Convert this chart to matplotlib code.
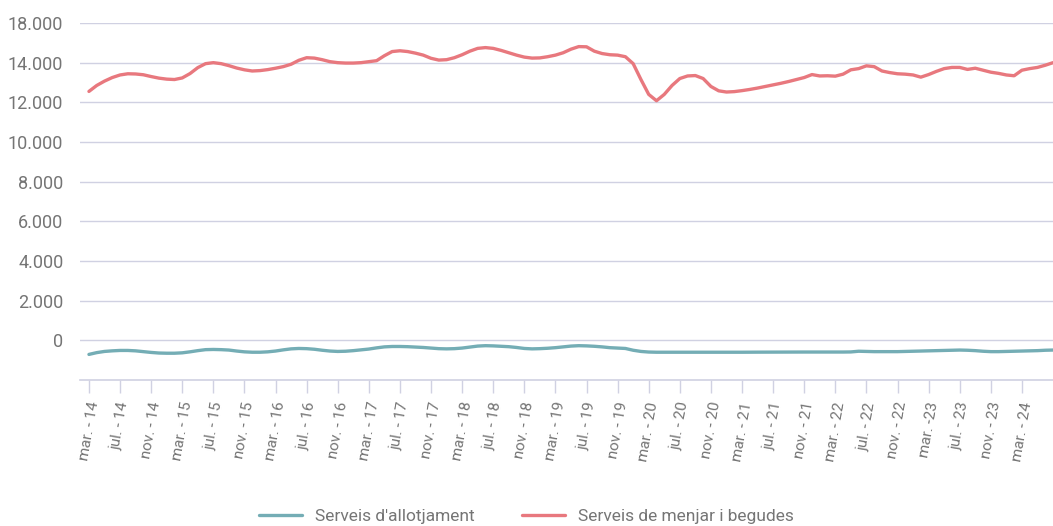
import matplotlib.pyplot as plt

# 数据: mensual, de mar. 2014 a jul. 2024
menjar = [12550, 12850, 13070, 13250, 13380, 13440, 13430, 13390, 13300, 13220,
          13170, 13150, 13230, 13450, 13750, 13950, 14000, 13950, 13850, 13730,
          13640, 13580, 13600, 13650, 13720, 13800, 13920, 14120, 14250, 14230,
          14150, 14050, 14000, 13980, 13980, 14000, 14050, 14100, 14350, 14560,
          14600, 14560, 14480, 14380, 14220, 14130, 14150, 14250, 14400, 14580,
          14720, 14760, 14720, 14620, 14500, 14380, 14280, 14230, 14240, 14300,
          14380, 14500, 14680, 14810, 14800, 14580, 14460, 14400, 14380, 14300,
          13950, 13150, 12400, 12080, 12400, 12850, 13200, 13330, 13350, 13200,
          12800, 12580, 12520, 12540, 12590, 12650, 12720, 12800, 12880, 12960,
          13050, 13150, 13250, 13400, 13330, 13340, 13320, 13420, 13640, 13700,
          13840, 13800, 13580, 13500, 13440, 13420, 13380, 13270, 13400, 13560,
          13700, 13760, 13760, 13660, 13720, 13620, 13520, 13460, 13380, 13340,
          13620, 13700, 13760, 13870, 14000]

allotjament = [-710, -620, -560, -530, -510, -510, -530, -570, -610, -640,
               -650, -650, -630, -580, -520, -470, -460, -470, -490, -540,
               -580, -600, -600, -580, -540, -480, -430, -410, -420, -450,
               -500, -540, -560, -550, -520, -480, -440, -380, -330, -310,
               -310, -320, -340, -360, -390, -420, -430, -420, -390, -340,
               -290, -270, -280, -300, -320, -360, -410, -430, -420, -400,
               -370, -330, -290, -270, -280, -300, -330, -370, -390, -410,
               -500, -560, -590, -600, -600, -600, -600, -600, -600, -600,
               -600, -600, -600, -600, -600, -598, -596, -595, -594, -593,
               -592, -591, -590, -590, -590, -590, -590, -590, -585, -550,
               -560, -570, -570, -570, -570, -560, -550, -540, -530, -520,
               -510, -500, -490, -500, -520, -550, -570, -570, -560, -550,
               -540, -530, -520, -500, -490]

etiquetes_x = ['mar. - 14', 'jul. - 14', 'nov. - 14', 'mar. - 15', 'jul. - 15', 'nov. - 15',
               'mar. - 16', 'jul. - 16', 'nov. - 16', 'mar. - 17', 'jul. - 17', 'nov. - 17',
               'mar. - 18', 'jul. - 18', 'nov. - 18', 'mar. - 19', 'jul. - 19', 'nov. - 19',
               'mar. - 20', 'jul. - 20', 'nov. - 20', 'mar. - 21', 'jul. - 21', 'nov. - 21',
               'mar. - 22', 'jul. - 22', 'nov. - 22', 'mar. -23', 'jul. - 23', 'nov. - 23',
               'mar. - 24']

ticks_y = [0, 2000, 4000, 6000, 8000, 10000, 12000, 14000, 16000]
etiquetes_y = ['0', '2.000', '4.000', '6.000', '8.000', '10.000', '12.000', '14.000', '18.000']

gris = '#757575'
linia = '#d0d1e2'

plt.rcParams['font.family'] = ['Roboto', 'DejaVu Sans']

fig = plt.figure(figsize=(10.53, 5.26), dpi=100)
ax = fig.add_axes([80 / 1053, 1 - 380 / 526, 1 - 80 / 1053, 357 / 526])

mesos = list(range(len(menjar)))
ax.plot(mesos, allotjament, color='#74adb5', lw=2.4, label="Serveis d'allotjament",
        solid_joinstyle='round', solid_capstyle='round')
ax.plot(mesos, menjar, color='#e8787e', lw=2.4, label='Serveis de menjar i begudes',
        solid_joinstyle='round', solid_capstyle='round')

ax.set_xlim(-1.15, 124)
ax.set_ylim(-2000, 16000)

ax.set_yticks(ticks_y)
ax.set_yticklabels(etiquetes_y, fontsize=13, color=gris)
ax.tick_params(axis='y', length=0, pad=12)
ax.yaxis.grid(True, color=linia, lw=1)
ax.set_axisbelow(True)

ax.set_xticks(list(range(0, 121, 4)))
ax.set_xticklabels(etiquetes_x, rotation=80, fontsize=11, color=gris,
                   ha='center', va='top')
ax.tick_params(axis='x', length=9, width=1, color=linia, pad=6)

for s in ['top', 'right', 'left']:
    ax.spines[s].set_visible(False)
ax.spines['bottom'].set_color(linia)
ax.spines['bottom'].set_linewidth(1.2)

leg = fig.legend(loc='center', bbox_to_anchor=(0.5, 1 - 516 / 526), ncol=2, frameon=False,
                 fontsize=12.5, handlelength=2.5, columnspacing=2.7, handletextpad=0.75)
for t in leg.get_texts():
    t.set_color(gris)

fig.savefig('out.png', dpi=100)
